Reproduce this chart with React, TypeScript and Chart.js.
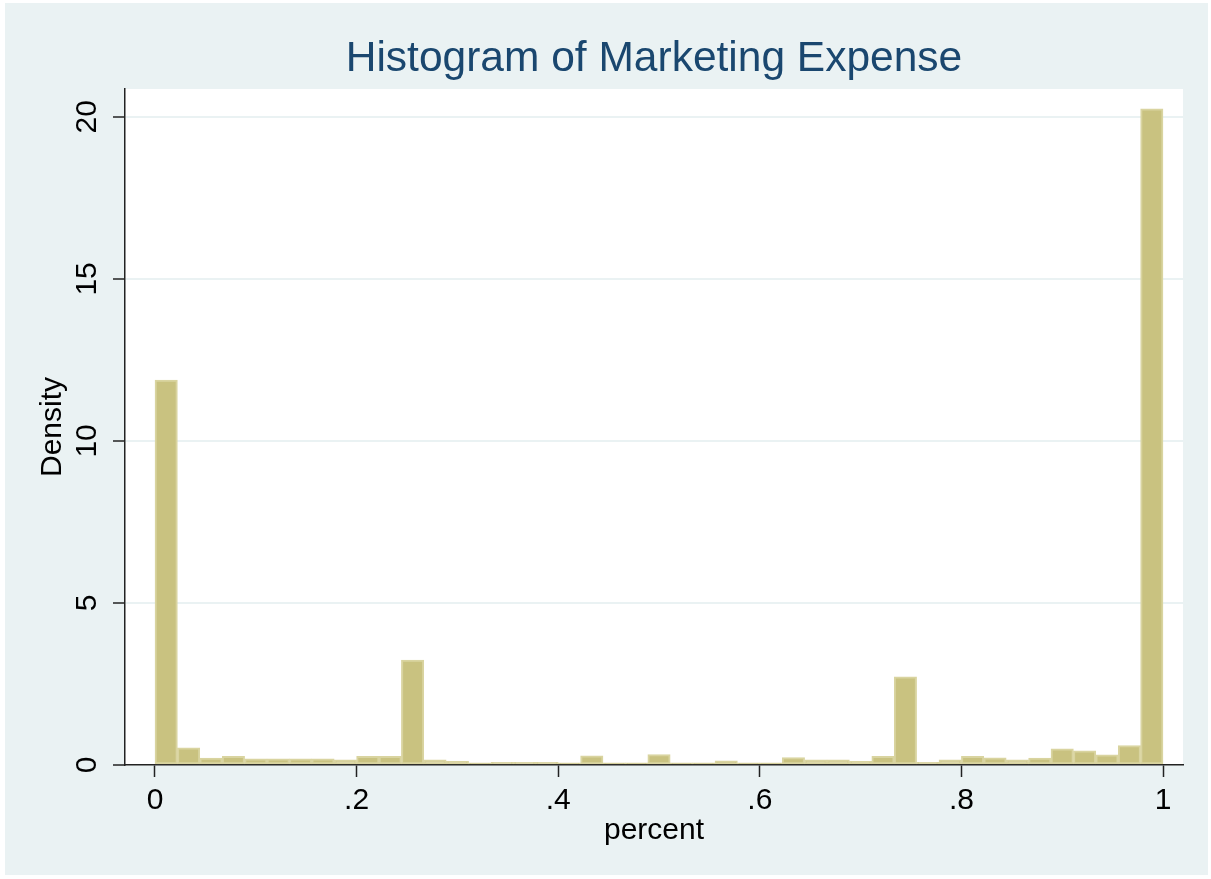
import React, { useEffect, useRef } from 'react';
import { Chart, registerables } from 'chart.js';

Chart.register(...registerables);

// Histogram: 45 equal-width bins from 0 to 1
const binStart = 0;
const binWidth = 1 / 45;
const densityValues = [
  11.88, 0.53, 0.21, 0.27, 0.19, 0.19, 0.19, 0.19, 0.16, 0.27,
  0.27, 3.24, 0.16, 0.11, 0.07, 0.08, 0.08, 0.08, 0.07, 0.28,
  0.07, 0.07, 0.32, 0.07, 0.07, 0.13, 0.07, 0.07, 0.23, 0.16,
  0.16, 0.11, 0.27, 2.72, 0.08, 0.16, 0.27, 0.22, 0.16, 0.21,
  0.50, 0.44, 0.31, 0.60, 20.25,
];
const xTickValues = [0, 0.2, 0.4, 0.6, 0.8, 1];
const xTickLabels = ['0', '.2', '.4', '.6', '.8', '1'];
const yTickValues = [0, 5, 10, 15, 20];
const yTickLabels = ['0', '5', '10', '15', '20'];

const TITLE = 'Histogram of Marketing Expense';
const X_TITLE = 'percent';
const Y_TITLE = 'Density';

const BG = 'rgb(234,242,243)';
const FONT = "'Liberation Sans', Arial, sans-serif";

export default function App() {
  const ref = useRef<HTMLCanvasElement | null>(null);

  useEffect(() => {
    const canvas = ref.current;
    if (!canvas) return;
    const points = densityValues.map((v, i) => ({ x: binStart + (i + 0.5) * binWidth, y: v }));

    const plotBg = {
      id: 'plotBg',
      beforeDraw(chart: any) {
        const { ctx, chartArea: a } = chart;
        ctx.save();
        ctx.fillStyle = '#ffffff';
        ctx.fillRect(a.left, a.top, a.right - a.left, a.bottom - a.top);
        ctx.restore();
      },
    };

    const yLabels = {
      id: 'yLabels',
      afterDraw(chart: any) {
        const { ctx, chartArea: a } = chart;
        const ys = chart.scales.y;
        ctx.save();
        ctx.fillStyle = '#000';
        ctx.font = `30px ${FONT}`;
        ctx.textAlign = 'center';
        ctx.textBaseline = 'middle';
        yTickValues.forEach((v, i) => {
          const py = ys.getPixelForValue(v);
          ctx.save();
          ctx.translate(a.left - 37, py);
          ctx.rotate(-Math.PI / 2);
          ctx.fillText(yTickLabels[i], 0, 0);
          ctx.restore();
        });
        ctx.restore();
      },
    };

    const chart = new Chart(canvas, {
      type: 'bar',
      data: {
        datasets: [
          {
            data: points,
            backgroundColor: 'rgb(201,194,128)',
            borderColor: 'rgb(217,212,160)',
            borderWidth: 2,
            borderSkipped: false,
            barPercentage: 1,
            categoryPercentage: 1,
          } as any,
        ],
      },
      options: {
        animation: false,
        responsive: false,
        maintainAspectRatio: false,
        layout: { padding: { left: 0, right: 25, top: 0, bottom: 0 } },
        plugins: {
          legend: { display: false },
          tooltip: { enabled: false },
          title: {
            display: true,
            fullSize: false,
            text: TITLE,
            color: 'rgb(26,71,111)',
            font: { family: FONT, size: 42.5, weight: 'normal' },
            padding: { top: 31, bottom: 4 },
          },
        },
        scales: {
          x: {
            type: 'linear',
            offset: false,
            min: -0.02976,
            max: 1.01984,
            afterBuildTicks: (s: any) => {
              s.ticks = xTickValues.map((v) => ({ value: v }));
            },
            afterFit: (s: any) => {
              s.height = 110;
            },
            ticks: {
              autoSkip: false,
              maxRotation: 0,
              minRotation: 0,
              padding: 6,
              color: '#000',
              font: { family: FONT, size: 30 },
              callback: (_v: any, i: number) => xTickLabels[i],
            },
            grid: {
              offset: false,
              drawOnChartArea: false,
              drawTicks: true,
              tickLength: 12,
              tickColor: '#222',
              tickWidth: 1.5,
            },
            border: { display: true, color: '#222', width: 1.5 },
            title: {
              display: true,
              text: X_TITLE,
              color: '#000',
              font: { family: FONT, size: 30 },
              padding: { top: 0, bottom: 26 },
            },
          },
          y: {
            type: 'linear',
            min: 0,
            max: 20.86,
            afterBuildTicks: (s: any) => {
              s.ticks = yTickValues.map((v) => ({ value: v }));
            },
            afterFit: (s: any) => {
              s.width = 120;
            },
            ticks: { display: false },
            grid: {
              drawTicks: true,
              tickLength: 12,
              lineWidth: 2,
              color: (c: any) => (c.tick && c.tick.value === 0 ? 'rgba(0,0,0,0)' : BG),
              tickColor: '#222',
              tickWidth: 1.5,
            },
            border: { display: true, color: '#222', width: 1.5 },
            title: {
              display: true,
              text: Y_TITLE,
              color: '#000',
              font: { family: FONT, size: 30 },
              padding: { top: 30, bottom: 0 },
            },
          },
        },
      },
      plugins: [plotBg, yLabels],
    });

    return () => chart.destroy();
  }, []);

  return (
    <div
      style={{
        position: 'absolute',
        left: 5,
        top: 3,
        width: 1203,
        height: 872,
        background: BG,
      }}
    >
      <canvas ref={ref} width={1203} height={872} style={{ display: 'block' }} />
    </div>
  );
}
